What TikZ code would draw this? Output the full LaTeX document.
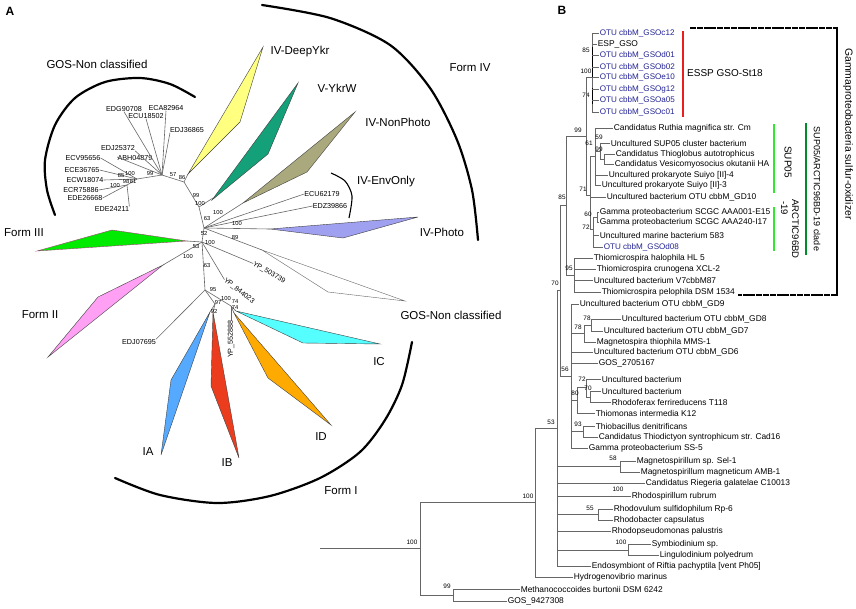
\documentclass[tikz,border=0pt]{standalone}
\usepackage{fontspec}
\setmainfont{Liberation Sans}
\definecolor{otublue}{RGB}{35,35,150}
\definecolor{cyel}{RGB}{255,255,128}
\definecolor{cteal}{RGB}{20,160,120}
\definecolor{colive}{RGB}{170,168,125}
\definecolor{clav}{RGB}{160,160,240}
\definecolor{cgreen}{RGB}{0,235,0}
\definecolor{cpink}{RGB}{255,160,245}
\definecolor{ccyan}{RGB}{85,255,255}
\definecolor{corange}{RGB}{255,170,0}
\definecolor{cred}{RGB}{235,60,30}
\definecolor{cblue}{RGB}{85,170,255}
\definecolor{barred}{RGB}{235,30,30}
\definecolor{barlg}{RGB}{50,230,50}
\definecolor{bardg}{RGB}{0,140,40}
\newcommand{\blf}[5]{\node[lf] (#1) at (#4,#3) {#5}; \draw[br] (#2,#3) -- (#1.west);}
\newcommand{\botu}[5]{\node[lf,text=otublue,font=\fontsize{8.1}{9}\selectfont] (#1) at (#4,#3) {#5}; \draw[br] (#2,#3) -- (#1.west);}
\begin{document}
\begin{tikzpicture}[x=1pt,y=-1pt,
  tl/.style={draw=black!60,line width=0.6pt},
  wedge/.style={draw=black!75,line width=0.4pt},
  alab/.style={font=\fontsize{11.5}{12}\selectfont,inner sep=0pt},
  gl/.style={font=\fontsize{7.2}{8}\selectfont,inner sep=0pt},
  bsa/.style={font=\fontsize{5.8}{6}\selectfont,inner sep=0pt},
  lf/.style={font=\fontsize{8.4}{9}\selectfont,anchor=west,inner sep=0.6pt},
  br/.style={draw=black!60,line width=0.6pt},
  bsb/.style={font=\fontsize{6.4}{7}\selectfont,inner sep=0pt},
  arcst/.style={line width=2.2pt,line cap=round},
  panel/.style={font=\bfseries\fontsize{12}{12}\selectfont,inner sep=0pt}]
\useasboundingbox (0,0) rectangle (856,608);

% ================= PANEL A =================
\node[panel] (pA) at (10,11) {A};

% arcs
\draw[arcst] plot[smooth] coordinates {(262,5) (330,18) (390,45) (430,88) (457,140) (472,190) (478,240)};
\draw[arcst] plot[smooth] coordinates {(195,97) (170,84) (140,78) (105,82) (75,98) (55,125) (45,160) (47,190) (55,215)};
\draw[arcst] plot[smooth] coordinates {(115,478) (160,495) (217,503) (270,496) (320,478) (360,452) (385,420) (402,385) (412,342)};
\draw[line width=1.1pt] plot[smooth] coordinates {(331,173) (345,181) (352,196) (349,218)};

% wedges
\draw[wedge,fill=cyel] (188,174) -- (263,47) -- (240,122) -- cycle;
\draw[wedge,fill=cteal] (212,200) -- (298,83) -- (268,154) -- cycle;
\draw[wedge,fill=colive] (243,203) -- (355,112) -- (307,172) -- cycle;
\draw[wedge,fill=clav] (270,229) -- (418,217) -- (343,238) -- cycle;
\draw[wedge,draw=black!60,fill=white] (262,250) -- (405,301) -- (328,292) -- cycle;
\draw[wedge,draw=magenta!60!black,fill=cgreen] (187,241) -- (112,230) -- (37,251) -- cycle;
\draw[wedge,fill=cpink] (163,265) -- (98,297) -- (48,357) -- cycle;
\draw[wedge,fill=ccyan] (236,311) -- (380,344) -- (303,343) -- cycle;
\draw[wedge,fill=corange] (234,313) -- (268,378) -- (331,425) -- cycle;
\draw[wedge,fill=cred] (213,312) -- (211,386) -- (239,458) -- cycle;
\draw[wedge,fill=cblue] (210,312) -- (171,380) -- (161,455) -- cycle;

% tree A skeleton
\coordinate (H1) at (162,175);
\coordinate (S1) at (137,179);
\coordinate (S2) at (127,185);
\coordinate (N2) at (184,182);
\coordinate (N3) at (199,207);
\coordinate (N4) at (204,228);
\coordinate (N5) at (202,242);
\coordinate (N7) at (205,290);
\coordinate (N8) at (231,306);
\coordinate (N9) at (215,304);
\draw[tl] (H1) -- (S1) -- (S2);
\draw[tl] (H1) -- (N2) -- (N3) -- (N4) -- (N5) -- (N7);
\draw[tl] (N2) -- (188,174);
\draw[tl] (N3) -- (213,198);
\draw[tl] (N4) -- (243,203);
\draw[tl] (N4) -- (270,229);
\draw[tl] (N4) -- (262,250);
\draw[tl] (N5) -- (187,241);
\draw[tl] (N5) -- (163,265);
\draw[tl] (N7) -- (N9) -- (210,312);
\draw[tl] (N9) -- (213,312);
\draw[tl] (N7) -- (N8) -- (236,311);
\draw[tl] (N8) -- (234,313);

% GOS cluster leaves
\node[gl] (edg) at (124,109) {EDG90708};
\node[gl] (ecu) at (146,116) {ECU18502};
\node[gl] (eca) at (166,108) {ECA82964};
\node[gl] (edj3) at (187,130) {EDJ36865};
\node[gl] (edj2) at (118,148) {EDJ25372};
\node[gl] (abh) at (135,158) {ABH04879};
\node[gl] (ecv) at (83,158) {ECV95656};
\node[gl] (ece) at (82,170) {ECE36765};
\node[gl] (ecw) at (85,180) {ECW18074};
\node[gl] (ecr) at (81,190) {ECR75886};
\node[gl] (ede6) at (85,198) {EDE26668};
\node[gl] (ede2) at (112,209) {EDE24211};
\draw[tl] (H1) -- (edg.south);
\draw[tl] (H1) -- (ecu.south);
\draw[tl] (H1) -- (eca.south);
\draw[tl] (H1) -- (edj3.south west);
\draw[tl] (H1) -- (edj2.south east);
\draw[tl] (H1) -- (117,157);
\draw[tl] (S1) -- (ecv.east);
\draw[tl] (S1) -- (ece.east);
\draw[tl] (S1) -- (ecw.east);
\draw[tl] (S2) -- (ecr.east);
\draw[tl] (S2) -- (ede6.east);
\draw[tl] (S2) -- (ede2.north east);

% other A leaves
\node[gl] (ecu6) at (322,194) {ECU62179};
\node[gl] (edz) at (330,206) {EDZ39866};
\draw[tl] (N4) -- (ecu6.west);
\draw[tl] (N4) -- (edz.west);
\node[gl,font=\fontsize{7}{8}\selectfont,rotate=-31] (yp5) at (269,273) {YP\_503739};
\node[gl,font=\fontsize{7}{8}\selectfont,rotate=-38] (yp8) at (239,291) {YP\_844023};
\draw[tl] (N5) -- (yp5.west);
\draw[tl] (N5) -- (yp8.west);
\node[gl] (edj0) at (139,342) {EDJ07695};
\draw[tl] (N7) -- (edj0.north east);
\node[gl,rotate=90] (yp55) at (231,339) {YP\_552888};
\draw[tl] (N8) -- (yp55.east);

% bootstrap A
\node[bsa] at (150,173) {99};
\node[bsa] at (173,175) {57};
\node[bsa] at (182,177) {86};
\node[bsa] at (196,195) {99};
\node[bsa] at (200,203) {100};
\node[bsa] at (207,218) {63};
\node[bsa] at (218,212) {100};
\node[bsa] at (237,223) {100};
\node[bsa] at (235,237) {89};
\node[bsa] at (204,233) {52};
\node[bsa] at (210,242) {100};
\node[bsa] at (196,246) {53};
\node[bsa] at (188,256) {100};
\node[bsa] at (207,265) {63};
\node[bsa] at (213,289) {95};
\node[bsa] at (226,298) {100};
\node[bsa] at (235,301) {74};
\node[bsa] at (235,307) {74};
\node[bsa] at (218,302) {97};
\node[bsa] at (214,311) {92};
\node[bsa] at (121,175) {85};
\node[bsa] at (130,174) {100};
\node[bsa] at (126,181) {98};
\node[bsa] at (133,181) {81};
\node[bsa] at (115,185) {100};

% group labels
\node[alab] at (300,52) {IV-DeepYkr};
\node[alab] at (337,88) {V-YkrW};
\node[alab] at (398,122) {IV-NonPhoto};
\node[alab] at (386,182) {IV-EnvOnly};
\node[alab] at (442,232) {IV-Photo};
\node[alab] at (451,315) {GOS-Non classified};
\node[alab] at (379,362) {IC};
\node[alab] at (321,437) {ID};
\node[alab] at (227,463) {IB};
\node[alab] at (148,452) {IA};
\node[alab] at (341,491) {Form I};
\node[alab] at (40,315) {Form II};
\node[alab] at (24,233) {Form III};
\node[alab] at (97,64) {GOS-Non classified};
\node[alab] at (470,68) {Form IV};

% ================= PANEL B =================
\node[panel] (pB) at (562,10) {B};

% ESP clade
\draw[br] (592,33) -- (592,112);
\draw[br,draw=black,line width=1pt] (592,47) -- (592,78);
\draw[br,draw=black,line width=1pt] (592,88) -- (592,104);
\botu{l1}{592}{33}{599}{OTU cbbM\_GSOc12}
\blf{l2}{592}{44}{597}{ESP\_GSO}
\botu{l3}{592}{55}{599}{OTU cbbM\_GSOd01}
\botu{l4}{592}{67}{599}{OTU cbbM\_GSOb02}
\botu{l5}{592}{77}{599}{OTU cbbM\_GSOe10}
\botu{l6}{592}{89}{599}{OTU cbbM\_GSOg12}
\botu{l7}{592}{100}{599}{OTU cbbM\_GSOa05}
\botu{l8}{592}{112}{599}{OTU cbbM\_GSOc01}
\node[bsb] at (586,50) {85};
\node[bsb] at (586,71) {100};
\node[bsb] at (586,95) {74};

% n99
\draw[br] (586,77) -- (592,77);
\draw[br] (586,77) -- (586,195);
\node[bsb] at (578,130) {99};
% n71
\draw[br] (586,195) -- (590,195);
\draw[br] (590,156) -- (590,229);
\node[bsb] at (583,189) {71};
% n61
\draw[br] (590,156) -- (595,156);
\draw[br] (595,128) -- (595,185);
\node[bsb] at (589,143) {61};
\blf{l9}{595}{128}{613}{Candidatus Ruthia magnifica str. Cm}
\draw[br] (595,151) -- (600,151);
\draw[br] (600,143) -- (600,159);
\node[bsb] at (599,137) {59};
\blf{l10}{600}{143}{610}{Uncultured SUP05 cluster bacterium}
\draw[br] (600,159) -- (604,159);
\draw[br] (604,154) -- (604,164);
\node[bsb] at (599,149) {99};
\blf{l11}{604}{154}{615}{Candidatus Thioglobus autotrophicus}
\blf{l12}{604}{164}{614}{Candidatus Vesicomyosocius okutanii HA}
\blf{l13}{595}{175}{608}{Uncultured prokaryote Suiyo [II]-4}
\blf{l14}{595}{185}{601}{Uncultured prokaryote Suiyo [II]-3}
\blf{l15}{590}{197}{606}{Uncultured bacterium OTU cbbM\_GD10}
% n72
\draw[br] (590,229) -- (593,229);
\draw[br] (593,217) -- (593,247);
\node[bsb] at (586,227) {72};
\draw[br] (593,217) -- (597,217);
\draw[br] (597,212) -- (597,222);
\node[bsb] at (588,214) {60};
\blf{l16}{597}{212}{599}{Gamma proteobacterium SCGC AAA001-E15}
\blf{l17}{597}{222}{599}{Gamma proteobacterium SCGC AAA240-I17}
\blf{l18}{593}{235}{599}{Uncultured marine bacterium 583}
\botu{l19}{593}{247}{603}{OTU cbbM\_GSOd08}

% n85 and n95
\draw[br] (566,136) -- (586,136);
\draw[br] (566,136) -- (566,275);
\node[bsb] at (562,197) {85};
\draw[br] (566,275) -- (574,275);
\draw[br] (574,258) -- (574,292);
\node[bsb] at (569,268) {95};
\blf{l20}{574}{258}{593}{Thiomicrospira halophila HL 5}
\blf{l21}{574}{269}{596}{Thiomicrospira crunogena XCL-2}
\blf{l22}{574}{280}{593}{Uncultured bacterium V7cbbM87}
\blf{l23}{574}{292}{601}{Thiomicrospira pelophila DSM 1534}

% n70
\draw[br] (560,205) -- (566,205);
\draw[br] (560,205) -- (560,376);
\draw[br] (557,290) -- (560,290);
\node[bsb] at (555,283) {70};
% n56
\draw[br] (560,376) -- (571,376);
\draw[br] (571,304) -- (571,448);
\node[bsb] at (565,369) {56};
\blf{l24}{571}{304}{579}{Uncultured bacterium OTU cbbM\_GD9}
\draw[br] (571,333) -- (584,333);
\draw[br] (584,325) -- (584,342);
\node[bsb] at (578,327) {78};
\draw[br] (584,325) -- (591,325);
\draw[br] (591,319) -- (591,331);
\node[bsb] at (587,318) {78};
\blf{l25}{591}{319}{621}{Uncultured bacterium OTU cbbM\_GD8}
\blf{l26}{591}{331}{603}{Uncultured bacterium OTU cbbM\_GD7}
\blf{l27}{584}{342}{596}{Magnetospira thiophila MMS-1}
\blf{l28}{571}{352}{593}{Uncultured bacterium OTU cbbM\_GD6}
\blf{l29}{571}{363}{598}{GOS\_2705167}
\draw[br] (571,400) -- (577,400);
\draw[br] (577,387) -- (577,413);
\node[bsb] at (575,393) {80};
\draw[br] (577,387) -- (586,387);
\draw[br] (586,379) -- (586,397);
\node[bsb] at (582,379) {72};
\blf{l30}{586}{379}{601}{Uncultured bacterium}
\draw[br] (586,397) -- (590,397);
\draw[br] (590,391) -- (590,402);
\node[bsb] at (588,388) {70};
\blf{l31}{590}{391}{601}{Uncultured bacterium}
\blf{l32}{590}{402}{611}{Rhodoferax ferrireducens T118}
\blf{l33}{577}{413}{595}{Thiomonas intermedia K12}
\draw[br] (571,431) -- (583,431);
\draw[br] (583,426) -- (583,437);
\node[bsb] at (578,424) {93};
\blf{l34}{583}{426}{595}{Thiobacillus denitrificans}
\blf{l35}{583}{437}{598}{Candidatus Thiodictyon syntrophicum str. Cad16}
\blf{l36}{571}{448}{588}{Gamma proteobacterium SS-5}

% n53
\draw[br] (557,290) -- (557,566);
\draw[br] (535,428) -- (557,428);
\node[bsb] at (551,422) {53};
\draw[br] (557,466) -- (620,466);
\draw[br] (620,461) -- (620,472);
\node[bsb] at (613,458) {58};
\blf{l37}{620}{461}{636}{Magnetospirillum sp. Sel-1}
\blf{l38}{620}{472}{640}{Magnetospirillum magneticum AMB-1}
\blf{l39}{557}{483}{645}{Candidatus Riegeria galatelae C10013}
\node[bsb] at (618,489) {100};
\blf{l40}{557}{496}{631}{Rhodospirillum rubrum}
\draw[br] (557,514) -- (598,514);
\draw[br] (598,509) -- (598,520);
\node[bsb] at (590,508) {55};
\blf{l41}{598}{509}{613}{Rhodovulum sulfidophilum Rp-6}
\blf{l42}{598}{520}{613}{Rhodobacter capsulatus}
\blf{l43}{557}{531}{611}{Rhodopseudomonas palustris}
\draw[br] (557,550) -- (628,550);
\draw[br] (628,544) -- (628,555);
\node[bsb] at (621,542) {100};
\blf{l44}{628}{544}{651}{Symbiodinium sp.}
\blf{l45}{628}{555}{659}{Lingulodinium polyedrum}
\blf{l46}{557}{566}{591}{Endosymbiont of Riftia pachyptila [vent Ph05]}

% n100b and root
\draw[br] (535,428) -- (535,577);
\draw[br] (420,502) -- (535,502);
\node[bsb] at (528,496) {100};
\blf{l47}{535}{577}{573}{Hydrogenovibrio marinus}
\draw[br] (320,548) -- (420,548);
\draw[br] (420,502) -- (420,595);
\node[bsb] at (412,542) {100};
\draw[br] (420,595) -- (453,595);
\draw[br] (453,589) -- (453,601);
\node[bsb] at (447,586) {99};
\blf{l48}{453}{589}{520}{Methanococcoides burtonii DSM 6242}
\blf{l49}{453}{601}{507}{GOS\_9427308}

% clade bars and brackets
\draw[barred,line width=2pt] (683,31) -- (683,117);
\node[font=\fontsize{10}{12}\selectfont,inner sep=0pt] (essp) at (725,73) {ESSP GSO-St18};
\draw[barlg,line width=2pt] (774,124) -- (774,193);
\draw[barlg,line width=2pt] (774,207) -- (774,251);
\draw[bardg,line width=2pt] (806,123) -- (806,255);
\node[font=\fontsize{10}{12}\selectfont,rotate=-90,inner sep=0pt] (sup) at (788,162) {SUP05};
\node[font=\fontsize{9.5}{11}\selectfont,rotate=-90,inner sep=0pt,align=left] (arc) at (790,229) {ARCTIC96BD\\\,-19};
\node[font=\fontsize{9}{10}\selectfont,rotate=-90,inner sep=0pt] (clade) at (817,189) {SUP05/ARCTIC96BD-19 clade};
\draw[line width=2.3pt,dash pattern=on 6pt off 0.8pt] (690,28) -- (837,28);
\draw[line width=2.3pt] (837,27) -- (837,296);
\draw[line width=2.3pt,dash pattern=on 6pt off 0.8pt] (837,295) -- (738,295);
\node[font=\fontsize{10.4}{12}\selectfont,rotate=-90,inner sep=0pt] (gam) at (848,134) {Gammaproteobacteria sulfur-oxidizer};
\end{tikzpicture}
\end{document}
